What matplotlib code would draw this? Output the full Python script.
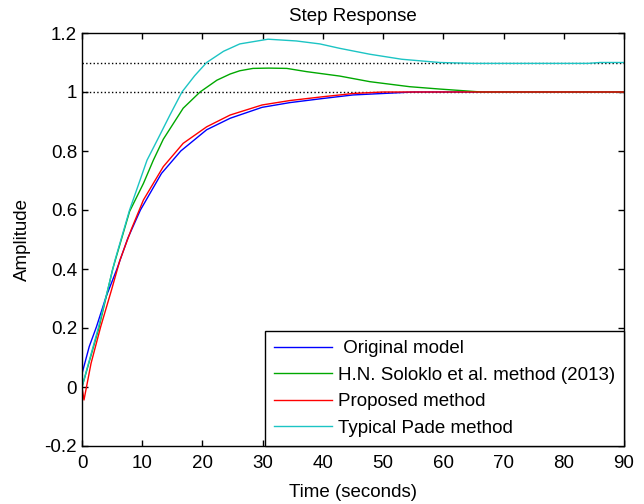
import matplotlib
matplotlib.use("Agg")
import matplotlib.pyplot as plt

plt.rcParams["font.family"] = ["Liberation Sans", "DejaVu Sans"]
plt.rcParams["font.size"] = 13.5

# step response samples
t_orig = [0, 1.2, 2.4, 4, 5.8, 7.6, 9.7, 13.2, 16.4, 20.7, 24.6, 29.9, 34.5, 40, 45, 50, 55, 90]
y_orig = [0.045, 0.137, 0.204, 0.306, 0.40, 0.504, 0.60, 0.724, 0.80, 0.872, 0.911, 0.948, 0.964, 0.978, 0.99, 0.995, 1.0, 1.0]

t_solo = [0, 2.8, 5.1, 7.9, 10.2, 11.85, 13.5, 16.8, 19.6, 22.4, 24.6, 26.2, 28.4, 31, 34, 37.3, 42.8, 47.8, 54.4, 59.4, 66.3, 90]
y_solo = [0.0, 0.20, 0.40, 0.595, 0.69, 0.769, 0.84, 0.945, 1.0, 1.04, 1.061, 1.072, 1.080, 1.081, 1.080, 1.069, 1.054, 1.035, 1.018, 1.010, 1.0, 1.0]

t_prop = [0, 0.33, 1.5, 3.1, 4.9, 6.3, 8.2, 10.2, 13.5, 16.8, 20.7, 24.6, 29.9, 34.5, 40, 42.8, 45, 50, 90]
y_prop = [0.0, -0.044, 0.08, 0.204, 0.329, 0.43, 0.535, 0.634, 0.747, 0.826, 0.882, 0.922, 0.956, 0.971, 0.984, 0.99, 0.995, 1.0, 1.0]

t_pade = [0, 2.7, 5.48, 7.9, 10.8, 12.7, 14.6, 16.6, 18.7, 20.7, 23.5, 26.2, 30.9, 35.6, 39.5, 42.8, 47.8, 53.1, 59.4, 65, 84, 86, 90]
y_pade = [0.0, 0.20, 0.43, 0.60, 0.769, 0.845, 0.922, 1.0, 1.055, 1.10, 1.138, 1.163, 1.179, 1.173, 1.163, 1.148, 1.128, 1.111, 1.10, 1.097, 1.097, 1.10, 1.10]

labels = [" Original model", "H.N. Soloklo et al. method (2013)",
          "Proposed method", "Typical Pade method"]
colors = ["#0000ff", "#00a800", "#ff0000", "#1cc4c4"]
final_values = [1.0, 1.1]

fig = plt.figure(figsize=(6.44, 5.04), dpi=100)
ax = fig.add_axes([82 / 644, 58 / 504, 542 / 644, 413 / 504])

for yv in final_values:
    ax.axhline(yv, color="black", linestyle=":", linewidth=1.0, zorder=1)

series = [(t_orig, y_orig), (t_solo, y_solo), (t_prop, y_prop), (t_pade, y_pade)]
for (t, y), lab, c in zip(series, labels, colors):
    ax.plot(t, y, color=c, linewidth=1.0, label=lab, zorder=2)

ax.set_xlim(0, 90)
ax.set_ylim(-0.2, 1.2)
ax.set_xticks(range(0, 91, 10))
ax.set_yticks([-0.2, 0, 0.2, 0.4, 0.6, 0.8, 1.0, 1.2])
ax.set_yticklabels(["-0.2", "0", "0.2", "0.4", "0.6", "0.8", "1", "1.2"])
ax.tick_params(direction="in", top=True, right=True, length=4, width=1)
ax.tick_params(axis="x", pad=6.5)
ax.tick_params(axis="y", pad=3.5)
for sp in ax.spines.values():
    sp.set_linewidth(1.0)

ax.set_title("Step Response", fontsize=13.5, pad=8.5)
ax.set_xlabel("Time (seconds)", labelpad=8.5)
ax.set_ylabel("Amplitude", labelpad=10)

leg = ax.legend(loc="lower right", borderaxespad=0, fancybox=False,
                framealpha=1, edgecolor="black", handlelength=3.05,
                handletextpad=0.32, labelspacing=0.5, borderpad=0.5)
leg.get_frame().set_linewidth(1.0)

fig.savefig("out.png", dpi=100)
